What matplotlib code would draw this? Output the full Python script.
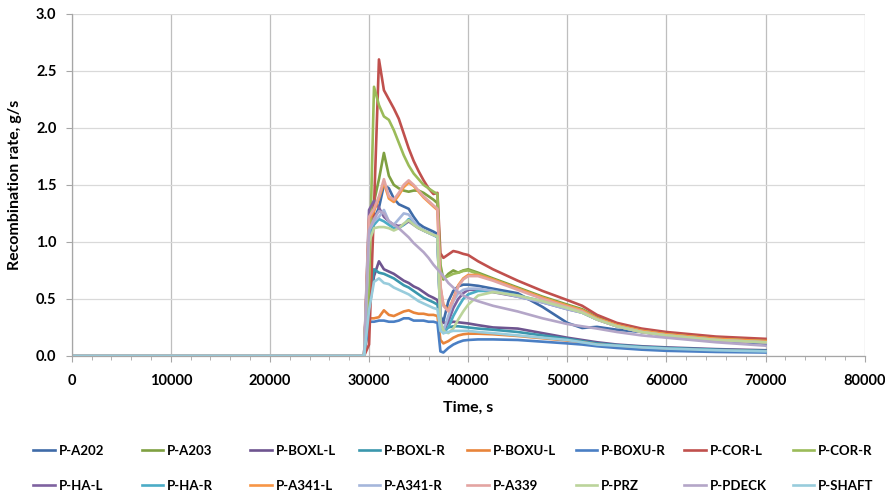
import matplotlib
matplotlib.use('Agg')
import matplotlib.pyplot as plt
from matplotlib.ticker import MultipleLocator

plt.rcParams['font.family'] = ['Lato', 'DejaVu Sans']
plt.rcParams['font.weight'] = 'bold'

############### DATA: recombination rate per PAR group ###############
time_s = [0, 29500, 30000, 30500, 31000, 31500, 32000, 32500, 33000, 33500, 34000, 34500,
          35000, 35500, 36000, 36500, 36900, 37200, 37500, 38000, 38500, 39000, 39500, 40000,
          41000, 42500, 45000, 47500, 50000, 51500, 53000, 55000, 57500, 60000, 65000, 70000]

p_a202 = [0, 0, 1.10, 1.20, 1.30, 1.50, 1.47, 1.38, 1.33, 1.31, 1.29, 1.22,
          1.16, 1.13, 1.11, 1.09, 1.07, 0.35, 0.30, 0.48, 0.57, 0.61, 0.625, 0.625,
          0.615, 0.59, 0.55, 0.43, 0.29, 0.245, 0.255, 0.23, 0.21, 0.19, 0.13, 0.10]
p_a203 = [0, 0, 1.10, 1.35, 1.55, 1.78, 1.58, 1.50, 1.47, 1.45, 1.44, 1.45,
          1.45, 1.43, 1.40, 1.37, 1.34, 0.80, 0.67, 0.72, 0.75, 0.73, 0.75, 0.76,
          0.73, 0.68, 0.60, 0.52, 0.45, 0.41, 0.34, 0.28, 0.23, 0.20, 0.16, 0.14]
p_boxl_l = [0, 0, 0.40, 0.70, 0.83, 0.76, 0.74, 0.72, 0.69, 0.66, 0.64, 0.61,
            0.59, 0.56, 0.53, 0.51, 0.49, 0.30, 0.29, 0.29, 0.30, 0.295, 0.29, 0.285,
            0.27, 0.25, 0.24, 0.20, 0.16, 0.14, 0.12, 0.10, 0.085, 0.075, 0.06, 0.05]
p_boxl_r = [0, 0, 0.45, 0.76, 0.73, 0.72, 0.70, 0.68, 0.65, 0.62, 0.60, 0.57,
            0.54, 0.51, 0.49, 0.47, 0.45, 0.27, 0.24, 0.25, 0.26, 0.26, 0.255, 0.25,
            0.24, 0.23, 0.21, 0.18, 0.15, 0.13, 0.11, 0.095, 0.08, 0.07, 0.055, 0.045]
p_boxu_l = [0, 0, 0.33, 0.33, 0.34, 0.40, 0.36, 0.35, 0.37, 0.39, 0.40, 0.38,
            0.37, 0.37, 0.36, 0.36, 0.35, 0.14, 0.11, 0.13, 0.16, 0.18, 0.19, 0.195,
            0.195, 0.19, 0.175, 0.155, 0.135, 0.12, 0.10, 0.085, 0.07, 0.06, 0.045, 0.04]
p_boxu_r = [0, 0, 0.30, 0.30, 0.31, 0.31, 0.30, 0.30, 0.31, 0.33, 0.33, 0.31,
            0.31, 0.31, 0.30, 0.30, 0.29, 0.04, 0.03, 0.07, 0.10, 0.12, 0.135, 0.14,
            0.145, 0.145, 0.14, 0.125, 0.11, 0.10, 0.085, 0.07, 0.055, 0.045, 0.035, 0.03]
p_cor_l = [0, 0, 0.10, 1.30, 2.60, 2.33, 2.25, 2.17, 2.08, 1.95, 1.82, 1.71,
           1.62, 1.54, 1.47, 1.42, 1.43, 0.90, 0.86, 0.89, 0.92, 0.91, 0.895, 0.885,
           0.83, 0.76, 0.66, 0.57, 0.49, 0.44, 0.36, 0.29, 0.24, 0.21, 0.17, 0.15]
p_cor_r = [0, 0, 0.60, 2.36, 2.20, 2.10, 2.07, 1.98, 1.87, 1.76, 1.67, 1.60,
           1.55, 1.50, 1.47, 1.44, 1.42, 0.75, 0.68, 0.70, 0.72, 0.73, 0.745, 0.75,
           0.72, 0.67, 0.59, 0.51, 0.44, 0.40, 0.33, 0.27, 0.22, 0.19, 0.15, 0.13]
p_ha_l = [0, 0, 1.28, 1.36, 1.30, 1.22, 1.18, 1.15, 1.14, 1.15, 1.18, 1.15,
          1.12, 1.10, 1.08, 1.06, 1.05, 0.30, 0.22, 0.30, 0.42, 0.50, 0.55, 0.58,
          0.58, 0.56, 0.52, 0.47, 0.41, 0.38, 0.32, 0.26, 0.21, 0.18, 0.14, 0.12]
p_ha_r = [0, 0, 1.05, 1.15, 1.20, 1.18, 1.15, 1.12, 1.12, 1.15, 1.20, 1.17,
          1.13, 1.10, 1.08, 1.06, 1.04, 0.30, 0.20, 0.25, 0.35, 0.43, 0.50, 0.54,
          0.57, 0.57, 0.53, 0.48, 0.42, 0.38, 0.32, 0.26, 0.21, 0.18, 0.14, 0.12]
p_a341_l = [0, 0, 1.20, 1.27, 1.38, 1.52, 1.38, 1.35, 1.41, 1.48, 1.52, 1.49,
            1.44, 1.39, 1.35, 1.31, 1.28, 0.60, 0.45, 0.40, 0.50, 0.62, 0.68, 0.71,
            0.71, 0.67, 0.59, 0.51, 0.44, 0.40, 0.33, 0.27, 0.22, 0.19, 0.15, 0.13]
p_a341_r = [0, 0, 1.10, 1.18, 1.22, 1.28, 1.18, 1.15, 1.20, 1.25, 1.24, 1.18,
            1.13, 1.10, 1.08, 1.06, 1.05, 0.30, 0.22, 0.35, 0.48, 0.55, 0.58, 0.59,
            0.59, 0.57, 0.52, 0.47, 0.41, 0.38, 0.32, 0.26, 0.21, 0.18, 0.14, 0.12]
p_a339 = [0, 0, 1.22, 1.29, 1.40, 1.55, 1.40, 1.37, 1.43, 1.50, 1.54, 1.50,
          1.45, 1.40, 1.36, 1.32, 1.29, 0.62, 0.44, 0.39, 0.49, 0.61, 0.67, 0.70,
          0.70, 0.66, 0.58, 0.50, 0.43, 0.39, 0.32, 0.26, 0.21, 0.18, 0.14, 0.12]
p_prz = [0, 0, 1.00, 1.12, 1.13, 1.13, 1.12, 1.10, 1.12, 1.16, 1.19, 1.15,
         1.12, 1.10, 1.08, 1.06, 1.05, 0.30, 0.22, 0.20, 0.24, 0.32, 0.39, 0.45,
         0.53, 0.56, 0.53, 0.48, 0.42, 0.38, 0.32, 0.26, 0.21, 0.18, 0.14, 0.12]
p_pdeck = [0, 0, 1.10, 1.20, 1.27, 1.25, 1.18, 1.15, 1.12, 1.08, 1.04, 0.99,
           0.95, 0.91, 0.86, 0.80, 0.76, 0.73, 0.70, 0.64, 0.60, 0.56, 0.53, 0.51,
           0.48, 0.44, 0.39, 0.33, 0.28, 0.26, 0.24, 0.21, 0.18, 0.16, 0.12, 0.09]
p_shaft = [0, 0, 0.40, 0.65, 0.68, 0.64, 0.63, 0.60, 0.58, 0.56, 0.54, 0.51,
           0.48, 0.46, 0.44, 0.42, 0.41, 0.22, 0.20, 0.21, 0.22, 0.22, 0.22, 0.22,
           0.21, 0.20, 0.18, 0.16, 0.14, 0.12, 0.10, 0.09, 0.075, 0.065, 0.05, 0.04]

names = ['P-A202', 'P-A203', 'P-BOXL-L', 'P-BOXL-R', 'P-BOXU-L', 'P-BOXU-R', 'P-COR-L', 'P-COR-R',
         'P-HA-L', 'P-HA-R', 'P-A341-L', 'P-A341-R', 'P-A339', 'P-PRZ', 'P-PDECK', 'P-SHAFT']
series = [p_a202, p_a203, p_boxl_l, p_boxl_r, p_boxu_l, p_boxu_r, p_cor_l, p_cor_r,
          p_ha_l, p_ha_r, p_a341_l, p_a341_r, p_a339, p_prz, p_pdeck, p_shaft]
colors = ['#3F6BA8', '#7FA041', '#6E548F', '#3A97AD', '#E8843A', '#4A7FC4', '#C0504D', '#9BBB59',
          '#7F62A0', '#4BACC6', '#F79646', '#A5B6DB', '#E3A4A2', '#BBD49B', '#B4A6C8', '#98CCDC']

############### CREATE PLOT ###############
fig = plt.figure(figsize=(8.85, 4.93), dpi=100)
ax = fig.add_axes([0.081, 0.278, 0.896, 0.694])

lines = []
for vals, name, c in zip(series, names, colors):
    ln, = ax.plot(time_s, vals, color=c, lw=1.9, label=name, solid_joinstyle='round')
    lines.append(ln)

ax.set_xlim(0, 80000)
ax.set_ylim(0, 3.0)
ax.xaxis.set_major_locator(MultipleLocator(10000))
ax.xaxis.set_minor_locator(MultipleLocator(2000))
ax.yaxis.set_major_locator(MultipleLocator(0.5))
ax.yaxis.set_major_formatter(matplotlib.ticker.FormatStrFormatter('%.1f'))

ax.grid(axis='x', which='major', color='#BEBEBE', lw=0.9)
ax.grid(axis='y', which='major', color='#D9D9D9', lw=0.9)
ax.set_axisbelow(True)
for s in ['top', 'right']:
    ax.spines[s].set_visible(False)
for s in ['left', 'bottom']:
    ax.spines[s].set_color('#A6A6A6')
    ax.spines[s].set_linewidth(0.9)

ax.tick_params(axis='both', which='major', direction='out', length=4, color='#A6A6A6',
               labelsize=10.5, pad=7)
ax.tick_params(axis='x', which='minor', direction='out', length=3, color='#A6A6A6')
ax.tick_params(axis='x', which='major', pad=9)

ax.set_xlabel('Time, s', fontsize=11.5, fontweight='bold', labelpad=9)
ax.set_ylabel('Recombination rate, g/s', fontsize=11.5, fontweight='bold', labelpad=10)

# legend: 8 evenly spaced columns, 2 rows
for k, (ln, name) in enumerate(zip(lines, names)):
    row, col = divmod(k, 8)
    fig.legend([ln], [name], loc='center left',
               bbox_to_anchor=((33 + col * 108.5) / 885, 1 - (451 + row * 35) / 493),
               frameon=False, fontsize=9.5, handlelength=1.65, handletextpad=0.3,
               borderpad=0, borderaxespad=0)

plt.savefig('out.png', dpi=100)
